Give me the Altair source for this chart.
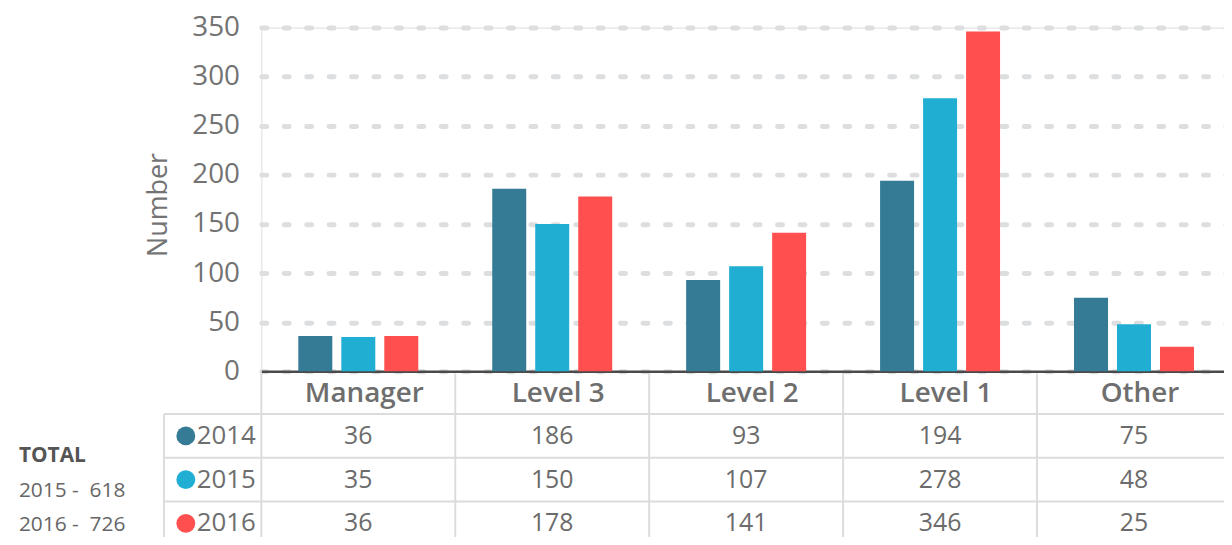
import altair as alt
import pandas as pd

categories = ["Manager", "Level 3", "Level 2", "Level 1", "Other"]
years = ["2014", "2015", "2016"]
values_2014 = [36, 186, 93, 194, 75]
values_2015 = [35, 150, 107, 278, 48]
values_2016 = [36, 178, 141, 346, 25]
y_ticks = [0, 50, 100, 150, 200, 250, 300, 350]
total_lines = ["TOTAL", "2015 -\u00a0 618", "2016 -\u00a0 726"]
colors = ["#367b96", "#20aed3", "#ff4f4f"]

rows = []
for yr, vals in zip(years, [values_2014, values_2015, values_2016]):
    for c, v in zip(categories, vals):
        rows.append({"category": c, "year": yr, "value": v})
df = pd.DataFrame(rows)
cat_df = pd.DataFrame({"category": categories})
year_df = pd.DataFrame({"year": years})
total_df = pd.DataFrame({"line": total_lines, "idx": [0, 1, 2]})

FONT = "Open Sans"
GRAY = "#737373"
LINE = "#dcdcdc"

x_scale = alt.Scale(domain=categories, paddingInner=0, paddingOuter=0)
row_scale = alt.Scale(type="band", domain=years, range=[389, 521], paddingInner=0, paddingOuter=0)
color_scale = alt.Scale(domain=years, range=colors)
total_scale = alt.Scale(type="point", domain=[0, 1, 2], range=[431.5, 500.5], padding=0)

x_enc = alt.X(
    "category:N",
    scale=x_scale,
    axis=alt.Axis(
        title=None, labelFontSize=28, labelFontWeight=600, labelColor="#6e6e6e",
        labelFont=FONT, labelPadding=22, ticks=False, domain=True, domainColor="#4a4a4a",
        domainWidth=2.5, labelAngle=0, grid=False, bandPosition=0.5,
        labelAlign="center", labelOffset=6,
    ),
)

bars = alt.Chart(df).mark_bar().encode(
    x=x_enc,
    xOffset=alt.XOffset("year:N", scale=alt.Scale(paddingInner=0.2093, paddingOuter=0.86)),
    y=alt.Y(
        "value:Q",
        scale=alt.Scale(domain=[0, 350], nice=False),
        axis=alt.Axis(
            values=y_ticks, grid=True, gridDash=[5, 17.57], gridCap="round",
            gridWidth=5, gridColor="#dddee0", domain=False, domainOpacity=0,
            ticks=False,
            labelFontSize=28, labelColor=GRAY, labelFont=FONT, labelPadding=22,
            title="Number", titleFontSize=27, titleFontWeight="normal",
            titleColor=GRAY, titleFont=FONT, titleX=-95, titleY=178,
            titleAngle=270, titleBaseline="alphabetic", titleAlign="center",
        ),
    ),
    color=alt.Color("year:N", scale=color_scale, legend=None),
)

vlines = alt.Chart(cat_df).mark_rule(color=LINE, strokeWidth=2).encode(
    x=alt.X("category:N", scale=x_scale, bandPosition=0),
    y=alt.value(348),
    y2=alt.value(540),
)

frame = alt.Chart(alt.Data(values=[{"k": 0}])).mark_rule(color=LINE, strokeWidth=2).encode(
    x=alt.value(-98),
    y=alt.value(389),
    y2=alt.value(540),
)

hlines = alt.Chart(year_df).mark_rule(color=LINE, strokeWidth=2).encode(
    y=alt.Y("year:N", scale=row_scale, bandPosition=0, axis=None),
    x=alt.value(-98),
    x2=alt.value(980),
)

cells = alt.Chart(df).mark_text(fontSize=25, color="#6b6b6b", font=FONT, baseline="middle").encode(
    x=alt.X("category:N", scale=x_scale),
    y=alt.Y("year:N", scale=row_scale, axis=None),
    text="value:Q",
)

dots = alt.Chart(year_df).mark_point(filled=True, shape="circle", size=361, opacity=1).encode(
    x=alt.value(-76),
    y=alt.Y("year:N", scale=row_scale, axis=None),
    color=alt.Color("year:N", scale=color_scale, legend=None),
)

year_text = alt.Chart(year_df).mark_text(
    fontSize=26, color="#6e6e6e", font=FONT, baseline="middle", align="left"
).encode(
    x=alt.value(-65),
    y=alt.Y("year:N", scale=row_scale, axis=None),
    text="year:N",
)

total_head = alt.Chart(total_df).transform_filter(alt.datum.idx == 0).mark_text(
    fontSize=21, fontWeight="bold", color="#555555", font=FONT, baseline="middle", align="left"
).encode(
    x=alt.value(-244),
    y=alt.Y("idx:O", scale=total_scale, axis=None),
    text="line:N",
)

total_rest = alt.Chart(total_df).transform_filter(alt.datum.idx > 0).mark_text(
    fontSize=21, color="#666666", font=FONT, baseline="middle", align="left"
).encode(
    x=alt.value(-244),
    y=alt.Y("idx:O", scale=total_scale, axis=None),
    text="line:N",
)

chart = (
    alt.layer(vlines, frame, hlines, bars, cells, dots, year_text, total_head, total_rest)
    .resolve_scale(y="independent")
    .properties(
        width=976,
        height=346,
        autosize=alt.AutoSizeParams(type="none"),
        padding={"left": 255, "top": 18, "right": -7, "bottom": 165},
    )
    .configure_view(stroke="transparent", strokeWidth=0)
    .configure_axisY(domain=False, ticks=False)
    .configure_axisX(grid=False)
    .configure(font=FONT)
)

chart.save("out.html", embed_options={"renderer": "svg", "actions": False})
